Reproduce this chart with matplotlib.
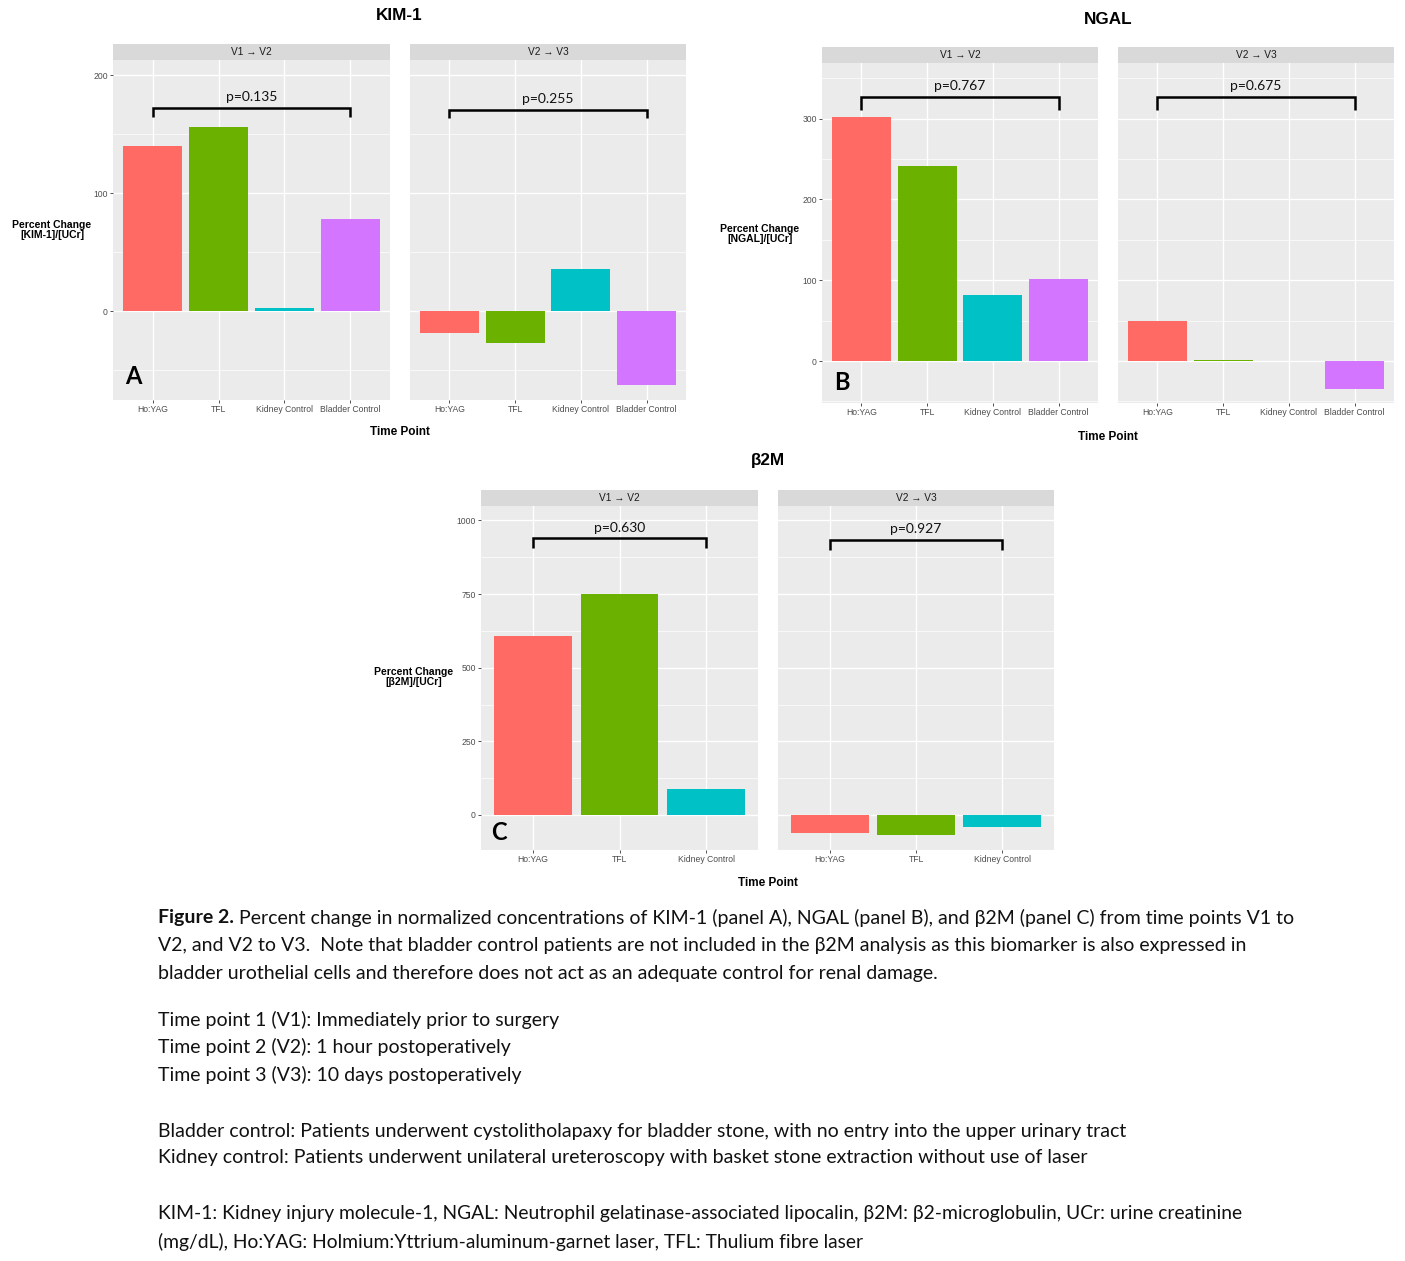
import matplotlib
matplotlib.use("Agg")
from matplotlib import pyplot as plt
import numpy as np

# data
cats4 = ["Ho:YAG", "TFL", "Kidney Control", "Bladder Control"]
cats3 = ["Ho:YAG", "TFL", "Kidney Control"]
facets = ["V1 \u2192 V2", "V2 \u2192 V3"]

kim1_v12 = [140, 156, 3, 78]
kim1_v23 = [-18, -27, 36, -62]
kim1_p = ["p=0.135", "p=0.255"]

ngal_v12 = [302, 242, 82, 101]
ngal_v23 = [49, 1, 0.5, -35]
ngal_p = ["p=0.767", "p=0.675"]

b2m_v12 = [607, 750, 88]
b2m_v23 = [-61, -68, -41]
b2m_p = ["p=0.630", "p=0.927"]

colors = ["#FF6A64", "#6BB100", "#00C1C6", "#D475FF"]

W, H = 1405, 1261
fig = plt.figure(figsize=(W / 100, H / 100), dpi=100)
fig.patch.set_facecolor("white")

SANS = ["Liberation Sans", "DejaVu Sans"]
CAP = ["Lato", "DejaVu Sans"]


def box(x0, y0, x1, y1):
    return [x0 / W, 1 - y1 / H, (x1 - x0) / W, (y1 - y0) / H]


def ftext(x, y, s, **kw):
    return fig.text(x / W, 1 - y / H, s, **kw)


def group(cols, strip_top, top, bot, cats, series, pvals, ylim, yticks,
          ylab, title, title_xy, ylab_xy, tp_xy, letter, letter_xy,
          br_y, br_drop, p_y):
    n = len(cats)
    xs = np.arange(1, n + 1)
    step = yticks[1] - yticks[0]
    minor = [t + step / 2 for t in [yticks[0] - step] + list(yticks)]
    for k, (x0, x1) in enumerate(cols):
        st = fig.add_axes(box(x0, strip_top, x1, top))
        st.set_facecolor("#D9D9D9")
        st.set_xticks([])
        st.set_yticks([])
        for s in st.spines.values():
            s.set_visible(False)
        st.text(0.5, 0.5, facets[k], ha="center", va="center",
                fontsize=7.3, color="#1A1A1A", family=SANS,
                transform=st.transAxes)

        ax = fig.add_axes(box(x0, top, x1, bot))
        ax.set_facecolor("#EBEBEB")
        for s in ax.spines.values():
            s.set_visible(False)
        ax.set_xticks(xs)
        ax.set_xticklabels(cats, fontsize=6.2, color="#4D4D4D", family=SANS)
        ax.set_yticks(yticks)
        ax.set_yticks(minor, minor=True)
        ax.set_xlim(0.4, n + 0.6)
        ax.set_ylim(*ylim)
        ax.grid(True, which="major", color="white", linewidth=1.0)
        ax.grid(True, which="minor", axis="y", color="white", linewidth=0.5)
        ax.set_axisbelow(True)
        ax.tick_params(axis="both", which="major", length=2.2, width=0.6,
                       color="#333333", pad=1.5)
        ax.tick_params(axis="y", which="minor", length=0)
        if k == 0:
            ax.set_yticklabels([str(t) for t in yticks], fontsize=6.2,
                               color="#4D4D4D", family=SANS)
        else:
            ax.tick_params(axis="y", which="major", length=0,
                           labelleft=False)
        ax.bar(xs, series[k], width=0.9, color=colors[:n], zorder=3)

        # significance bracket
        yb = br_y[k]
        ax.plot([1, 1, n, n], [yb - br_drop, yb, yb, yb - br_drop],
                color="black", linewidth=1.8, zorder=4,
                solid_capstyle="butt", solid_joinstyle="miter")
        ax.text((1 + n) / 2, p_y[k], pvals[k], ha="center", va="center",
                fontsize=10, family=CAP, color="#111111", zorder=5)

    ftext(*letter_xy, letter, ha="center", va="center", fontsize=17,
          fontweight="bold", family=CAP, color="black")
    ftext(*title_xy, title, ha="center", va="center", fontsize=12.3,
          fontweight="bold", family=SANS)
    ftext(*ylab_xy, ylab, ha="center", va="center", fontsize=7.5,
          fontweight="bold", family=SANS, linespacing=1.0)
    ftext(*tp_xy, "Time Point", ha="center", va="center", fontsize=8.5,
          fontweight="bold", family=SANS)


group([(113, 390), (410, 686)], 44, 60, 400, cats4, [kim1_v12, kim1_v23],
      kim1_p, (-75, 213), [0, 100, 200], "Percent Change\n[KIM-1]/[UCr]",
      "KIM-1", (399, 16), (52, 230), (400, 432), "A", (133, 376),
      [172, 171], 7, [182, 180])

group([(822, 1098), (1118, 1394)], 47, 63, 403, cats4, [ngal_v12, ngal_v23],
      ngal_p, (-52, 369), [0, 100, 200, 300], "Percent Change\n[NGAL]/[UCr]",
      "NGAL", (1108, 19), (760, 234), (1108, 437), "B", (842, 383),
      [327, 327], 16, [341, 341])

group([(481, 758), (778, 1054)], 490, 506, 850, cats3, [b2m_v12, b2m_v23],
      b2m_p, (-119, 1049), [0, 250, 500, 750, 1000],
      "Percent Change\n[\u03b22M]/[UCr]",
      "\u03b22M", (768, 461), (414, 677), (768, 883), "C", (499, 833),
      [940, 933], 34, [975, 970])

# caption
fs = 14
x0 = 158
ink = "#111111"
lead = ftext(x0, 918, "Figure 2.", fontsize=fs, family=CAP,
             fontweight="bold", va="center", color=ink)
cap1 = ("Percent change in normalized concentrations of KIM-1 (panel A), "
        "NGAL (panel B), and \u03b22M (panel C) from time points V1 to")
lines = [
    (946, "V2, and V2 to V3.  Note that bladder control patients are not included in the \u03b22M analysis as this biomarker is also expressed in"),
    (973, "bladder urothelial cells and therefore does not act as an adequate control for renal damage."),
    (1020, "Time point 1 (V1): Immediately prior to surgery"),
    (1047, "Time point 2 (V2): 1 hour postoperatively"),
    (1075, "Time point 3 (V3): 10 days postoperatively"),
    (1131, "Bladder control: Patients underwent cystolitholapaxy for bladder stone, with no entry into the upper urinary tract"),
    (1158, "Kidney control: Patients underwent unilateral ureteroscopy with basket stone extraction without use of laser"),
]
for y, s in lines:
    ftext(x0, y, s, fontsize=fs, family=CAP, va="center", color=ink)
for y, s in [(1214, "KIM-1: Kidney injury molecule-1, NGAL: Neutrophil gelatinase-associated lipocalin, \u03b22M: \u03b22-microglobulin, UCr: urine creatinine"),
             (1242, "(mg/dL), Ho:YAG: Holmium:Yttrium-aluminum-garnet laser, TFL: Thulium fibre laser")]:
    ftext(x0, y, s, fontsize=13.9, family=CAP, va="center", color=ink)

fig.canvas.draw()
bb = lead.get_window_extent(renderer=fig.canvas.get_renderer())
fig.text((bb.x1 + 5) / W, 1 - 918 / H, cap1, fontsize=fs, family=CAP,
         va="center", color=ink)

fig.savefig("out.png", dpi=100)
